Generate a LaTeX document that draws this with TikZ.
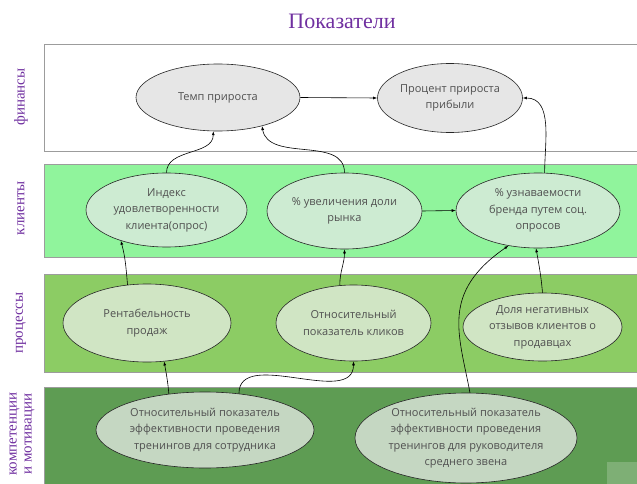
\documentclass[tikz,border=0pt]{standalone}
\usepackage{fontspec}
\setmainfont{Liberation Serif}
\newfontfamily\ovalfont{Open Sans}
\usetikzlibrary{shapes.geometric,arrows.meta}

\definecolor{titlepurple}{HTML}{7030A0}
\definecolor{bandline}{HTML}{9C9C9C}
\definecolor{clientband}{HTML}{90F49C}
\definecolor{processband}{HTML}{8CCC64}
\definecolor{skillband}{HTML}{5E9C53}
\definecolor{finoval}{HTML}{E6E6E6}
\definecolor{clientoval}{HTML}{CDEBD2}
\definecolor{processoval}{HTML}{D0E5C4}
\definecolor{skilloval}{HTML}{C5D7C2}
\definecolor{ovaltext}{HTML}{505050}

\begin{document}
\begin{tikzpicture}[x=1pt,y=-1pt,
  band/.style={draw=bandline, line width=0.8pt},
  oval/.style={ellipse, draw=black!85, line width=0.6pt, inner sep=0pt,
    font=\ovalfont\fontsize{11}{16.5}\selectfont, text=ovaltext, align=center},
  link/.style={draw=black, line width=0.6pt, -{Latex[length=4pt,width=3pt]}},
  side/.style={rotate=90, text=titlepurple, font=\fontsize{15}{15}\selectfont, align=center}
]
\useasboundingbox (0,0) rectangle (637,484);

% title
\node[text=titlepurple, font=\fontsize{22}{26}\selectfont] (title) at (342,21) {Показатели};

% horizontal bands
\fill[white] (44,44) rectangle (637,151);
\draw[band] (637,44) -| (44,151) -- (637,151);
\fill[clientband] (44,164) rectangle (637,257);
\draw[band] (637,164) -| (44,257) -- (637,257);
\fill[processband] (44,274) rectangle (637,372);
\draw[band] (637,274) -| (44,372) -- (637,372);
\fill[skillband] (44,387) rectangle (637,484);
\draw[band] (637,387) -| (44,484);

% faint badge in the corner
\fill[white, opacity=0.2] (607,462) rectangle (637,484);

% band labels
\node[side] (lfin) at (21,97) {финансы};
\node[side] (lcli) at (21,208) {клиенты};
\node[side] (lproc) at (21,323) {процессы};
\node[side] (lskill) at (22,434) {компетенции\\и мотивации};

% finance
\node[oval, fill=finoval, minimum width=164pt, minimum height=67pt] (temp) at (218,97.5) {Темп прироста};
\node[oval, fill=finoval, minimum width=145pt, minimum height=69pt] (profit) at (450,98) {Процент прироста\\прибыли};

% clients
\node[oval, fill=clientoval, minimum width=161pt, minimum height=74pt] (index) at (166.5,210) {Индекс\\удовлетворенности\\клиента(опрос)};
\node[oval, fill=clientoval, minimum width=155pt, minimum height=76pt] (share) at (344.5,211) {\% увеличения доли\\рынка};
\node[oval, fill=clientoval, minimum width=164pt, minimum height=75pt] (brand) at (538,210.5) {\% узнаваемости\\бренда путем соц.\\опросов};

% processes
\node[oval, fill=processoval, minimum width=168pt, minimum height=78pt] (rent) at (147,323) {Рентабельность\\продаж};
\node[oval, fill=processoval, minimum width=155pt, minimum height=76pt] (clicks) at (353.5,323) {Относительный\\показатель кликов};
\node[oval, fill=processoval, minimum width=159pt, minimum height=68pt] (neg) at (542.5,327) {Доля негативных\\отзывов клиентов о\\продавцах};

% competences
\node[oval, fill=skilloval, minimum width=218pt, minimum height=76pt] (emp) at (205,430) {Относительный показатель\\эффективности проведения\\тренингов для сотрудника};
\node[oval, fill=skilloval, minimum width=222pt, minimum height=90pt] (mgr) at (466,438) {Относительный показатель\\эффективности проведения\\тренингов для руководителя\\среднего звена};

% connectors
\draw[link] (temp.east) -- (profit.west);
\draw[link] (share.east) -- (brand.west);
\draw[link] (index.90) to[out=90, in=-90] (temp.-98);
\draw[link] (share.90) to[out=90, in=-80] (temp.-33);
\draw[link] (brand.80) to[out=90, in=0] (profit.0);
\draw[link] (rent.117) to[out=95, in=-75] (index.-146);
\draw[link] (clicks.110) to[out=90, in=-90] (share.-90);
\draw[link] (neg.90) to[out=95, in=-80] (brand.-93);
\draw[link] (emp.135) to[out=95, in=-80] (rent.-66);
\draw[link] (emp.47) to[out=90, in=-90] (clicks.-90);
\draw[link] (mgr.85) .. controls +(-11,-59) and +(-68,47) .. (brand.-130);
\end{tikzpicture}
\end{document}
